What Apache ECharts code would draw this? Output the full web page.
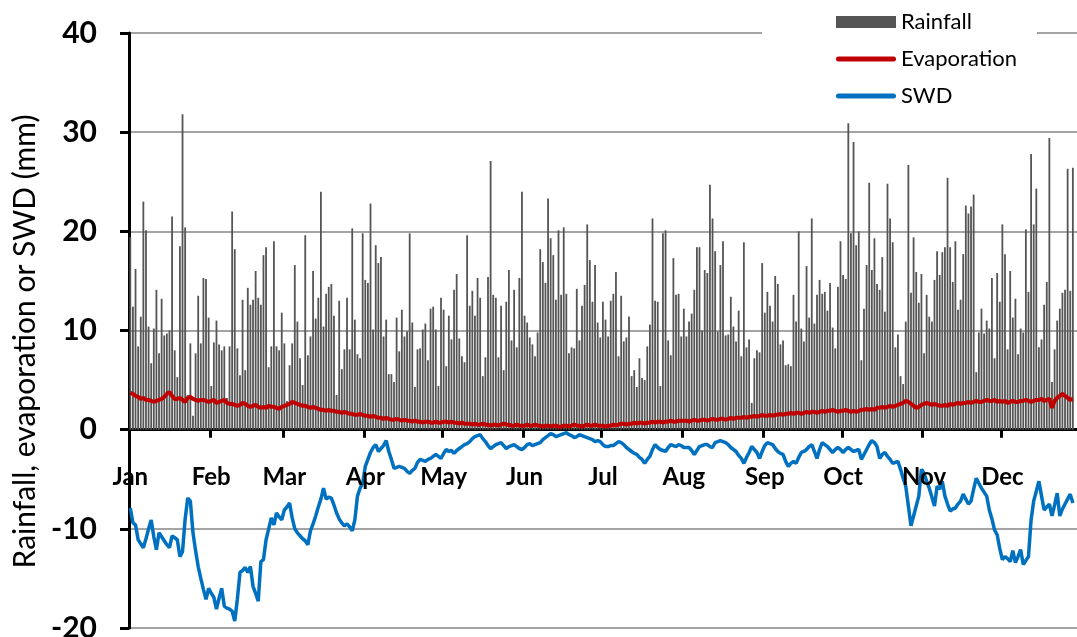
<!DOCTYPE html>
<html>
<head>
<meta charset="utf-8">
<script src="https://cdn.jsdelivr.net/npm/echarts@6/dist/echarts.min.js"></script>
<style>
  html, body { margin: 0; padding: 0; background: #fff; }
  #chart { width: 1077px; height: 637px; }
</style>
</head>
<body>
<div id="chart"></div>
<script>
// Calendar used for the daily x axis
const months = ['Jan', 'Feb', 'Mar', 'Apr', 'May', 'Jun', 'Jul', 'Aug', 'Sep', 'Oct', 'Nov', 'Dec'];
const daysInMonth = [31, 28, 31, 30, 31, 30, 31, 31, 30, 31, 30, 31];

// Daily rainfall (mm)
const rainfall = [
  19.4,12.4,16.2,8.4,11.4,23.0,20.1,10.4,6.7,10.2,14.1,7.7,13.2,9.5,9.7,10.0,21.5,8.0,5.3,18.5,
  31.8,20.4,3.5,8.7,1.4,7.7,13.5,8.7,15.3,15.2,11.3,4.4,8.8,11.0,8.6,8.0,8.4,3.2,8.4,22.0,
  18.2,8.2,5.5,13.1,6.0,14.3,12.6,13.1,16.0,13.3,12.6,17.6,18.4,6.3,8.4,19.0,8.4,8.0,11.8,8.7,
  2.9,6.5,8.7,16.6,10.9,7.2,4.5,19.6,7.5,9.4,16.0,11.2,13.3,24.0,10.4,13.7,14.4,14.7,11.5,3.5,
  13.0,6.1,8.1,13.3,8.1,20.3,11.1,7.6,7.2,19.8,15.1,14.8,22.8,10.1,18.6,16.8,17.4,9.4,11.1,5.6,
  5.6,4.8,11.3,7.9,12.1,9.4,9.9,19.8,10.8,4.3,8.1,8.2,10.1,10.7,7.0,12.2,12.4,10.1,4.4,13.3,
  12.1,
  6.4,11.5,9.1,14.1,15.7,9.2,7.4,6.8,19.6,12.5,14.0,11.5,15.3,13.3,5.4,7.3,15.4,27.1,13.6,13.3,
  7.3,12.5,6.0,12.9,16.1,9.0,14.1,8.3,15.3,24.0,11.5,10.8,9.3,8.6,7.4,9.8,18.2,16.9,14.8,23.3,
  19.3,17.6,13.1,20.1,13.6,20.4,13.7,7.7,8.3,8.2,14.2,9.0,12.5,14.6,20.7,17.1,12.9,16.6,10.8,9.3,
  12.9,11.1,
  9.4,13.0,13.7,15.9,7.4,13.5,8.9,9.3,11.4,5.4,6.0,4.3,7.2,5.2,5.0,8.4,10.6,21.3,13.0,12.9,
  4.4,19.8,20.1,9.0,7.5,17.3,13.6,13.7,9.4,12.2,9.4,10.9,11.7,14.1,18.4,18.4,10.0,16.1,15.8,24.7,
  21.3,18.0,9.9,16.6,19.0,9.5,9.6,13.4,10.4,8.9,12.0,7.4,18.9,8.3,9.1,2.7,7.2,8.0,7.8,16.8,
  11.8,
  13.9,12.5,10.9,15.5,14.7,8.6,9.0,6.5,6.6,6.4,13.6,10.9,20.0,10.2,8.9,16.5,11.3,21.3,10.7,13.6,
  15.1,13.7,13.9,12.0,14.8,10.3,8.2,14.4,19.0,15.6,15.2,30.9,19.8,29.0,18.6,20.0,7.0,12.2,16.6,24.9,
  16.1,19.3,14.7,14.1,17.4,11.9,24.8,21.3,18.9,8.3,9.6,5.4,4.6,10.9,26.7,13.8,19.4,15.9,12.8,15.7,
  7.7,
  13.6,11.4,10.9,15.1,18.0,15.6,17.9,18.4,25.4,18.4,14.9,19.0,12.1,13.1,17.7,22.6,21.8,22.5,23.7,5.8,
  9.8,12.2,9.7,11.0,10.2,15.3,7.2,15.8,12.9,20.7,17.7,8.1,16.0,11.3,13.2,7.6,10.2,9.8,20.2,13.9,
  27.8,20.7,24.3,8.3,9.1,12.6,14.9,29.4,4.8,8.1,11.0,12.2,13.8,14.1,26.3,14.0,26.4
];

// Daily evaporation (mm)
const evaporation = [
  3.7,3.6,3.4,3.3,3.1,3.2,3.0,3.0,2.9,2.8,2.9,3.0,3.1,3.3,3.6,3.8,3.4,3.1,3.1,3.2,3.0,2.8,3.2,3.3,3.1,3.0,2.9,3.0,3.0,2.9,2.8,
  2.9,3.0,2.7,2.8,2.9,3.0,2.7,2.6,2.6,2.5,2.4,2.5,2.7,2.6,2.4,2.3,2.4,2.5,2.3,2.2,2.3,2.2,2.4,2.3,2.3,2.2,2.1,2.3,
  2.4,2.5,2.6,2.8,2.7,2.6,2.5,2.4,2.4,2.3,2.2,2.3,2.2,2.1,2.0,2.0,1.9,2.0,1.9,1.9,1.8,1.8,1.7,1.8,1.7,1.6,1.6,1.5,1.5,1.6,1.5,
  1.4,1.4,1.3,1.4,1.3,1.2,1.2,1.1,1.2,1.1,1.0,1.0,1.1,1.0,0.9,1.0,0.9,0.9,0.8,0.9,0.8,0.8,0.7,0.8,0.8,0.7,0.7,0.8,0.7,0.7,
  0.8,0.8,0.7,0.8,0.7,0.7,0.6,0.7,0.6,0.6,0.6,0.5,0.6,0.5,0.5,0.6,0.5,0.5,0.4,0.5,0.5,0.4,0.5,0.6,0.5,0.5,0.4,0.4,0.5,0.4,0.4,
  0.4,0.5,0.4,0.4,0.5,0.4,0.4,0.3,0.4,0.4,0.3,0.4,0.4,0.3,0.3,0.4,0.4,0.3,0.4,0.5,0.4,0.4,0.3,0.4,0.5,0.4,0.4,0.5,0.4,0.4,
  0.4,0.3,0.4,0.4,0.5,0.4,0.5,0.6,0.6,0.5,0.6,0.6,0.7,0.6,0.7,0.7,0.6,0.7,0.7,0.8,0.7,0.8,0.8,0.7,0.8,0.8,0.9,0.8,0.8,0.9,0.9,
  0.9,0.9,0.8,0.9,1.0,0.9,0.9,1.0,1.0,0.9,1.0,1.1,1.0,1.0,1.1,1.1,1.0,1.1,1.2,1.1,1.2,1.2,1.2,1.3,1.2,1.3,1.3,1.4,1.3,1.4,1.5,
  1.4,1.4,1.5,1.4,1.5,1.5,1.6,1.5,1.6,1.6,1.7,1.6,1.7,1.7,1.6,1.7,1.8,1.7,1.8,1.8,1.7,1.8,1.9,1.8,1.9,1.9,2.0,1.9,1.8,1.9,
  1.9,2.0,1.9,1.8,1.9,1.8,1.9,2.0,2.0,2.1,2.0,2.1,2.0,2.2,2.2,2.3,2.2,2.3,2.4,2.3,2.4,2.5,2.6,2.7,2.9,2.8,2.6,2.4,2.2,2.3,2.5,
  2.6,2.7,2.6,2.5,2.6,2.5,2.4,2.4,2.5,2.4,2.6,2.5,2.6,2.7,2.6,2.7,2.7,2.8,2.7,2.8,2.9,2.8,2.8,2.9,3.0,2.9,2.9,3.0,2.8,2.9,
  2.8,2.9,2.7,2.8,2.9,2.8,2.8,2.9,2.9,3.0,2.9,2.8,2.9,3.0,3.0,3.1,2.9,3.0,3.1,2.2,2.9,3.2,3.4,3.6,3.4,3.2,3.0,3.1
];

// Daily soil water deficit, SWD (mm)
const swd = [
  -7.9,-9.4,-9.6,-11.1,-11.5,-11.9,-11.0,-10.0,-9.1,-10.8,-12.1,-10.4,-10.8,-11.2,-11.6,-11.9,-10.7,-10.9,-11.1,-12.8,
  -12.3,-9.0,-6.9,-7.2,-10.4,-12.2,-13.8,-15.0,-16.1,-17.1,-16.0,-16.5,-16.9,-18.1,-17.0,-16.0,-17.8,-18.0,-18.1,-18.3,
  -19.3,-17.1,-14.4,-14.2,-13.9,-14.4,-13.8,-15.8,-16.5,-17.3,-13.3,-13.1,-11.1,-10.0,-8.9,-9.6,-8.4,-8.8,-9.1,-8.1,
  -7.8,-7.4,-8.9,-10.0,-10.4,-10.7,-11.0,-11.2,-11.6,-10.2,-9.5,-8.7,-7.8,-7.0,-5.9,-7.0,-6.8,-6.9,-7.6,-8.4,
  -9.0,-9.4,-9.7,-9.5,-9.8,-10.2,-9.1,-6.7,-5.9,-5.4,-3.7,-3.0,-2.3,-1.8,-1.5,-2.2,-1.9,-1.6,-1.1,-2.2,
  -3.0,-3.9,-3.8,-3.7,-3.8,-3.9,-4.2,-4.4,-4.1,-3.9,-3.3,-3.0,-3.1,-3.2,-3.0,-2.9,-2.7,-2.5,-2.7,-2.9,
  -2.4,-2.0,-2.2,-2.1,-2.4,-2.1,-1.9,-1.7,-1.5,-1.4,-1.2,-0.9,-0.7,-0.6,-0.5,-0.9,-1.2,-1.6,-1.9,-1.7,
  -1.5,-1.4,-1.3,-1.6,-1.9,-1.7,-1.6,-1.5,-1.7,-1.9,-2.0,-1.8,-1.5,-1.4,-1.6,-1.5,-1.4,-1.3,-1.0,-0.8,
  -0.6,-0.4,-0.5,-0.7,-0.6,-0.5,-0.4,-0.3,-0.5,-0.6,-0.8,-0.7,-0.5,-0.6,-0.7,-0.8,-0.9,-1.0,-1.2,-1.1,
  -1.2,-1.5,-1.7,-1.7,-1.6,-1.6,-1.4,-1.2,-1.3,-1.5,-1.8,-2.0,-2.2,-2.4,-2.5,-2.8,-3.0,-3.4,-3.0,-2.7,
  -2.0,-1.5,-1.8,-2.0,-2.1,-2.2,-1.8,-1.5,-1.6,-1.7,-1.5,-1.6,-1.8,-1.8,-1.8,-2.1,-2.5,-2.1,-1.7,-1.6,
  -1.5,-1.5,-1.7,-1.8,-1.3,-1.2,-1.1,-1.2,-1.3,-1.5,-1.8,-2.0,-2.2,-2.6,-2.9,-3.4,-2.8,-2.3,-1.7,-2.0,
  -2.3,-2.9,-2.2,-1.6,-1.3,-1.4,-1.5,-1.9,-2.2,-2.4,-2.5,-3.2,-3.7,-3.4,-3.2,-3.4,-2.8,-2.3,-2.2,-2.0,
  -1.7,-1.5,-2.2,-2.9,-2.0,-1.3,-1.5,-1.7,-2.0,-2.3,-2.0,-1.8,-2.0,-2.3,-2.0,-1.8,-2.0,-2.2,-2.1,-2.0,
  -3.0,-2.5,-2.0,-1.5,-1.1,-1.3,-1.7,-2.9,-2.5,-2.3,-2.7,-3.0,-3.4,-3.3,-3.2,-4.0,-4.9,-5.7,-7.7,-9.7,
  -8.7,-7.7,-6.7,-4.0,-4.4,-5.2,-5.9,-6.8,-7.7,-5.7,-6.0,-5.2,-6.7,-7.5,-8.2,-8.0,-7.9,-7.5,-7.2,-6.5,
  -7.0,-7.5,-7.2,-6.0,-4.9,-5.4,-5.9,-6.3,-6.7,-8.1,-9.0,-10.1,-10.6,-12.0,-13.1,-12.8,-13.0,-13.3,-12.2,-13.4,
  -12.8,-12.1,-13.6,-13.2,-12.8,-9.1,-7.2,-6.2,-5.2,-6.7,-8.1,-7.8,-7.5,-8.7,-7.6,-6.4,-8.7,-8.0,-7.5,-7.0,
  -6.5,-7.4
];

// One category per day of the year, e.g. "1 Jan"
const days = [];
months.forEach((m, i) => {
  for (let d = 1; d <= daysInMonth[i]; d++) days.push(d + ' ' + m);
});
const isMonthStart = (index, value) => value.startsWith('1 ');

// Legend icons for the two line series: a short bar with rounded ends
const lineIcon = 'path://M2.5,0H57.5A2.5,2.5 0 0 1 57.5,5H2.5A2.5,2.5 0 0 1 2.5,0Z';

const FONT = 'Lato';
const Y_MIN = -20, Y_MAX = 40;
const GRID = { left: 129, top: 33, width: 953, height: 595 };
// Distance from the bottom of the plot up to the zero line
const zeroOffset = GRID.height * (0 - Y_MIN) / (Y_MAX - Y_MIN);

const chart = echarts.init(document.getElementById('chart'), null, { renderer: 'canvas' });

chart.setOption({
  animation: false,
  backgroundColor: '#ffffff',
  grid: Object.assign({ containLabel: false, outerBoundsMode: 'none' }, GRID),
  legend: {
    orient: 'vertical',
    left: 762,
    top: 4,
    backgroundColor: '#ffffff',
    padding: [6, 20, 6, 74],
    itemWidth: 60,
    itemHeight: 12,
    itemGap: 13,
    selectedMode: false,
    textStyle: { fontFamily: FONT, fontSize: 22, color: '#000', lineHeight: 24 },
    data: [
      { name: 'Rainfall', icon: 'rect' },
      { name: 'Evaporation', icon: lineIcon },
      { name: 'SWD', icon: lineIcon }
    ]
  },
  xAxis: [
    {
      // Day axis drawn along the zero line, ticks at each month start
      type: 'category',
      data: days,
      boundaryGap: true,
      axisLine: { onZero: true, lineStyle: { color: '#000', width: 3 } },
      axisTick: { show: true, interval: isMonthStart, length: 8, lineStyle: { color: '#000', width: 3 } },
      axisLabel: { show: false },
      splitLine: { show: false }
    },
    {
      // Month names just under the zero line, drawn above the series
      type: 'category',
      data: days,
      boundaryGap: true,
      position: 'bottom',
      offset: -zeroOffset,
      z: 10,
      axisLine: { show: false, onZero: false },
      axisTick: { show: false },
      axisLabel: {
        interval: isMonthStart,
        formatter: (value) => value.split(' ')[1],
        margin: 36,
        fontFamily: FONT,
        fontSize: 24,
        fontWeight: 'bold',
        color: '#000'
      },
      splitLine: { show: false }
    }
  ],
  yAxis: {
    type: 'value',
    min: Y_MIN,
    max: Y_MAX,
    interval: 10,
    name: 'Rainfall, evaporation or SWD (mm)',
    nameLocation: 'middle',
    nameGap: 87,
    nameTextStyle: { fontFamily: FONT, fontSize: 30, color: '#000', padding: [0, 22, 0, 0] },
    axisLine: { show: true, lineStyle: { color: '#000', width: 3 } },
    axisTick: { show: true, length: 9, lineStyle: { color: '#000', width: 3 } },
    axisLabel: { margin: 32, fontFamily: FONT, fontSize: 30, fontWeight: 'bold', color: '#000' },
    splitLine: { show: true, lineStyle: { color: '#868686', width: 1.5 } }
  },
  series: [
    {
      name: 'Rainfall',
      type: 'bar',
      data: rainfall,
      barWidth: 1.8,
      itemStyle: { color: '#555555' }
    },
    {
      name: 'Evaporation',
      type: 'line',
      data: evaporation,
      symbol: 'none',
      lineStyle: { color: '#c00000', width: 4 },
      itemStyle: { color: '#c00000' }
    },
    {
      name: 'SWD',
      type: 'line',
      data: swd,
      symbol: 'none',
      lineStyle: { color: '#0070c0', width: 3.5 },
      itemStyle: { color: '#0070c0' }
    }
  ]
});
</script>
</body>
</html>
